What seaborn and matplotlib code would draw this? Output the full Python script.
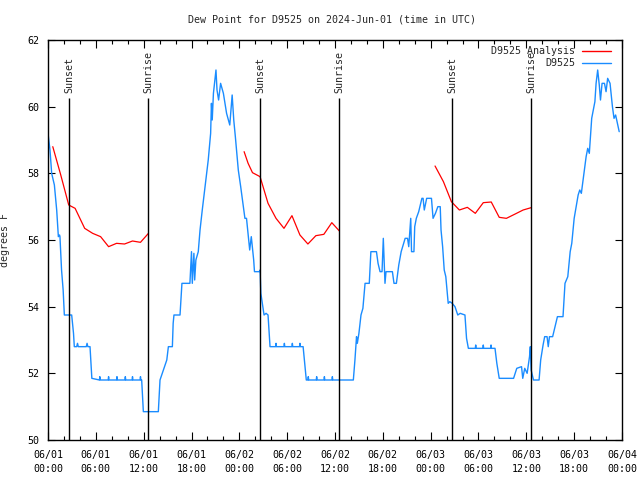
import matplotlib
matplotlib.use("Agg")
import matplotlib.pyplot as plt
import seaborn as sns
import pandas as pd
from matplotlib.ticker import MultipleLocator, FixedLocator
from matplotlib.lines import Line2D

# ---------------- data (hours since 2024-06-01 00:00 UTC) ----------------
obs_hours = [0.0, 0.25, 0.46, 0.8, 1.09, 1.3, 1.45, 1.5, 1.7, 1.9, 2.05, 2.97, 3.2, 3.3,
             3.6, 3.7, 3.8, 4.8, 4.9, 5.0, 5.27, 5.5,
             6.45, 6.5, 6.55, 7.55, 7.6, 7.65, 8.6, 8.65, 8.7, 9.65, 9.7, 9.75,
             10.55, 10.6, 10.65, 11.55, 11.6, 11.65, 11.75, 11.96, 13.84, 14.05, 14.4,
             14.9, 15.1, 15.6, 15.7, 15.8, 16.56, 16.8, 17.8, 18.0, 18.1, 18.3, 18.4,
             18.55, 18.85, 19.07, 19.35, 19.7, 20.1, 20.4, 20.5, 20.6, 20.75, 21.07,
             21.2, 21.4, 21.65, 22.0, 22.4, 22.8, 23.1, 23.3, 23.5, 23.87, 24.17, 24.5,
             24.7, 24.9, 25.3, 25.5, 25.8, 25.9, 26.5, 26.6, 26.7, 26.95, 27.1, 27.35,
             27.6, 27.85, 28.55, 28.6, 28.65, 29.6, 29.65, 29.7, 30.6, 30.65, 30.7,
             31.55, 31.6, 31.65, 32.0, 32.4, 32.6, 32.65, 32.7, 33.65, 33.7, 33.75,
             34.62, 34.67, 34.72, 35.62, 35.67, 35.72, 38.3, 38.5, 38.7, 38.8, 39.0,
             39.26, 39.5, 39.77, 40.3, 40.5, 41.2, 41.4, 41.65, 41.9, 42.06, 42.27,
             42.4, 43.2, 43.4, 43.7, 44.0, 44.3, 44.8, 45.1, 45.25, 45.5, 45.6, 45.9,
             46.0, 46.2, 46.5, 46.9, 47.05, 47.2, 47.5, 48.1, 48.3, 48.6, 48.9, 49.2,
             49.3, 49.5, 49.7, 49.9, 50.2, 50.4, 50.7, 51.05, 51.4, 51.7, 52.3, 52.5,
             52.73, 53.6, 53.65, 53.7, 54.55, 54.6, 54.65, 55.52, 55.57, 55.62, 56.07,
             56.3, 56.6, 58.4, 58.8, 59.4, 59.55, 59.8, 60.1, 60.4, 60.5, 60.6, 60.9,
             61.6, 61.8, 62.1, 62.3, 62.6, 62.75, 62.9, 63.3, 63.9, 64.6, 64.85, 65.2,
             65.5, 65.7, 66.0, 66.5, 66.7, 66.9, 67.15, 67.5, 67.7, 67.9, 68.2, 68.6,
             68.75, 68.95, 69.15, 69.3, 69.5, 69.8, 70.0, 70.2, 70.5, 70.8, 71.0, 71.2,
             71.65]
obs_values = [59.2, 58.7, 58.0, 57.65, 56.9, 56.1, 56.15, 56.1, 55.1, 54.5, 53.75, 53.75, 53.2, 52.8,
              52.8, 52.9, 52.8, 52.8, 52.9, 52.8, 52.8, 51.85,
              51.8, 51.9, 51.8, 51.8, 51.9, 51.8, 51.8, 51.9, 51.8, 51.8, 51.9, 51.8,
              51.8, 51.9, 51.8, 51.8, 51.9, 51.8, 51.8, 50.85, 50.85, 51.8, 52.05,
              52.4, 52.8, 52.8, 53.5, 53.75, 53.75, 54.7, 54.7, 55.65, 54.7, 55.6, 54.8,
              55.4, 55.65, 56.3, 56.9, 57.6, 58.4, 59.2, 60.1, 59.6, 60.4, 61.1,
              60.5, 60.2, 60.7, 60.4, 59.8, 59.45, 60.35, 59.6, 59.1, 58.1, 57.6, 57.0,
              56.65, 56.65, 55.7, 56.1, 55.4, 55.05, 55.05, 55.1, 54.4, 54.0, 53.75, 53.8,
              53.75, 52.8, 52.8, 52.9, 52.8, 52.8, 52.9, 52.8, 52.8, 52.9, 52.8,
              52.8, 52.9, 52.8, 52.8, 51.8, 51.8, 51.9, 51.8, 51.8, 51.9, 51.8,
              51.8, 51.9, 51.8, 51.8, 51.9, 51.8, 51.8, 52.4, 53.1, 52.9, 53.2,
              53.75, 53.95, 54.7, 54.7, 55.65, 55.65, 55.3, 55.05, 55.05, 56.05, 54.7,
              55.05, 55.05, 54.7, 54.7, 55.25, 55.65, 56.05, 56.05, 55.8, 56.65, 55.65, 55.65,
              56.4, 56.65, 56.85, 57.25, 57.25, 56.9, 57.25, 57.25, 56.65, 56.8, 57.0, 57.0,
              56.3, 55.8, 55.1, 54.9, 54.1, 54.15, 54.1, 54.0, 53.75, 53.8, 53.75, 53.05,
              52.75, 52.75, 52.85, 52.75, 52.75, 52.85, 52.75, 52.75, 52.85, 52.75, 52.75,
              52.3, 51.85, 51.85, 52.15, 52.2, 51.85, 52.15, 52.0, 52.5, 52.8, 52.1, 51.8,
              51.8, 52.4, 52.85, 53.1, 53.1, 52.8, 53.1, 53.1, 53.7, 53.7, 54.7, 54.9,
              55.65, 55.9, 56.65, 57.35, 57.5, 57.4, 57.85, 58.5, 58.75, 58.6, 59.65, 60.15,
              60.7, 61.1, 60.65, 60.2, 60.7, 60.7, 60.45, 60.85, 60.7, 60.0, 59.65, 59.75,
              59.25]

ana_hours_1 = [0.6, 1.6, 2.6, 3.4, 3.8, 4.6, 5.6, 6.6, 7.6, 8.6, 9.6, 10.6, 11.6, 12.6]
ana_values_1 = [58.8, 57.95, 57.05, 56.95, 56.75, 56.35, 56.2, 56.1, 55.8, 55.9, 55.88, 55.97, 55.93, 56.2]
ana_hours_2 = [24.6, 25.1, 25.65, 26.6, 27.6, 28.6, 29.6, 30.6, 31.6, 32.6, 33.6, 34.6, 35.6, 36.55]
ana_values_2 = [58.65, 58.3, 58.02, 57.9, 57.1, 56.65, 56.35, 56.73, 56.15, 55.88, 56.13, 56.17, 56.52, 56.27]
ana_hours_3 = [48.55, 49.6, 50.6, 51.6, 52.6, 53.6, 54.6, 55.6, 56.6, 57.5, 58.6, 59.6, 60.6]
ana_values_3 = [58.22, 57.75, 57.15, 56.9, 56.98, 56.8, 57.12, 57.14, 56.68, 56.65, 56.78, 56.9, 56.97]

sunset_hours = [2.67, 26.65, 50.7]
sunrise_hours = [12.59, 36.56, 60.64]

x_tick_hours = [0, 6, 12, 18, 24, 30, 36, 42, 48, 54, 60, 66, 72]
x_tick_labels = ["06/01\n00:00", "06/01\n06:00", "06/01\n12:00", "06/01\n18:00",
                 "06/02\n00:00", "06/02\n06:00", "06/02\n12:00", "06/02\n18:00",
                 "06/03\n00:00", "06/03\n06:00", "06/03\n12:00", "06/03\n18:00",
                 "06/04\n00:00"]
y_ticks = [50, 52, 54, 56, 58, 60, 62]

title = "Dew Point for D9525 on 2024-Jun-01 (time in UTC)"
ylabel = "degrees F"

# ---------------- build tables ----------------
obs_df = pd.DataFrame({"hour": obs_hours, "value": obs_values})
ana_df = pd.concat([
    pd.DataFrame({"hour": ana_hours_1, "value": ana_values_1, "seg": 1}),
    pd.DataFrame({"hour": ana_hours_2, "value": ana_values_2, "seg": 2}),
    pd.DataFrame({"hour": ana_hours_3, "value": ana_values_3, "seg": 3}),
], ignore_index=True)

# ---------------- style ----------------
sns.set_style("ticks")
plt.rcParams["font.family"] = ["DejaVu Sans Mono"]
plt.rcParams["font.size"] = 7.2

fig = plt.figure(figsize=(6.4, 4.8), dpi=100)
ax = fig.add_axes([48 / 640, 1 - 440 / 480, 574 / 640, 400 / 480])

red = "#ff0000"
blue = "#1a8cff"

sns.lineplot(data=ana_df, x="hour", y="value", units="seg", estimator=None,
             color=red, linewidth=0.9, ax=ax, sort=False)
sns.lineplot(data=obs_df, x="hour", y="value", estimator=None,
             color=blue, linewidth=1.0, ax=ax, sort=False)

# sunrise / sunset markers
for h in sunset_hours:
    ax.vlines(h, 50, 60.27, color="black", linewidth=1.0, zorder=3)
    ax.text(h, 60.4, "Sunset", rotation=90, ha="center", va="bottom", fontsize=7.2)
for h in sunrise_hours:
    ax.vlines(h, 50, 60.27, color="black", linewidth=1.0, zorder=3)
    ax.text(h, 60.4, "Sunrise", rotation=90, ha="center", va="bottom", fontsize=7.2)

ax.set_xlim(0, 72)
ax.set_ylim(50, 62)
ax.xaxis.set_major_locator(FixedLocator(x_tick_hours))
ax.set_xticklabels(x_tick_labels, linespacing=1.55)
ax.xaxis.set_minor_locator(MultipleLocator(2))
ax.set_yticks(y_ticks)
ax.set_yticklabels([str(v) for v in y_ticks])

ax.tick_params(which="both", direction="in", top=True, right=True, colors="black",
               labelsize=7.2, width=0.8)
ax.tick_params(which="major", length=6, pad=7)
ax.tick_params(axis="y", which="major", length=5, pad=6)
ax.tick_params(which="minor", length=3)
for s in ax.spines.values():
    s.set_color("black")
    s.set_linewidth(1.0)

ax.set_xlabel("")
ax.set_ylabel(ylabel, fontsize=7.2)
ax.yaxis.set_label_coords(-0.066, 0.5)
fig.text(332 / 640, 1 - 20 / 480, title, ha="center", va="center", fontsize=7.2)

handles = [Line2D([], [], color=red, linewidth=1.0), Line2D([], [], color=blue, linewidth=1.0)]
ax.legend(handles, ["D9525 Analysis", "D9525"], loc="upper right",
          bbox_to_anchor=(0.995, 1.005), frameon=False, markerfirst=False,
          handlelength=2.9, handletextpad=0.7, labelspacing=0.2, borderpad=0.3,
          fontsize=7.2)

fig.savefig("out.png", dpi=100)
